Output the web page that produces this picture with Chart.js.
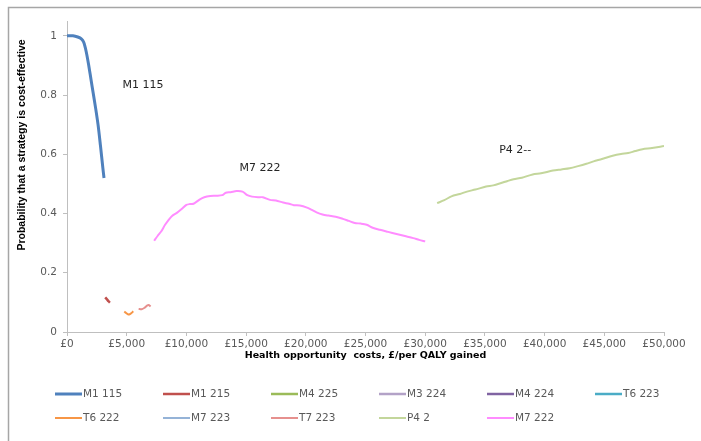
<!DOCTYPE html>
<html>
<head>
<meta charset="utf-8">
<title>Cost-effectiveness acceptability</title>
<script src="https://cdn.jsdelivr.net/npm/chart.js@4/dist/chart.umd.min.js"></script>
<style>
  html, body { margin: 0; padding: 0; background: #fff; }
  #grafico { display: block; }
</style>
</head>
<body>
<canvas id="grafico" width="701" height="441"></canvas>
<script>
// umbrales (£/QALY) y probabilidades de cada estrategia
const m1_115_x = [0, 500, 900, 1200, 1400, 1600, 1800, 2000, 2200, 2400, 2600, 2800, 3000, 3100];
const m1_115_y = [1.0, 1.0, 0.996, 0.99, 0.978, 0.948, 0.905, 0.855, 0.805, 0.755, 0.70, 0.63, 0.555, 0.52];

const m1_215_x = [3200, 3350, 3500, 3600];
const m1_215_y = [0.117, 0.110, 0.103, 0.099];

const t6_222_x = [4800, 4950, 5100, 5250, 5400, 5550];
const t6_222_y = [0.069, 0.064, 0.060, 0.060, 0.064, 0.070];

const t7_223_x = [6000, 6250, 6500, 6700, 6850, 7000];
const t7_223_y = [0.078, 0.077, 0.082, 0.089, 0.091, 0.086];

const m7_222_x = [7300, 7600, 7900, 8200, 8500, 8800, 9200, 9600, 10000, 10300, 10600, 11100, 11500,
                  12000, 12500, 13000, 13300, 13700, 14200, 14700, 15100, 15500, 16000, 16400, 17000,
                  17500, 18100, 18600, 19000, 19500, 20100, 20500, 20900, 21400, 21900, 22500, 23100,
                  23600, 24100, 24600, 25100, 25600, 26200, 26900, 27600, 28300, 29000, 29500, 30000];
const m7_222_y = [0.308, 0.325, 0.340, 0.361, 0.378, 0.392, 0.402, 0.415, 0.429, 0.432, 0.433, 0.447, 0.455,
                  0.459, 0.460, 0.462, 0.470, 0.472, 0.476, 0.474, 0.462, 0.457, 0.455, 0.455, 0.446,
                  0.444, 0.437, 0.433, 0.428, 0.427, 0.420, 0.412, 0.404, 0.397, 0.393, 0.389, 0.382,
                  0.375, 0.368, 0.366, 0.362, 0.352, 0.345, 0.338, 0.331, 0.324, 0.317, 0.311, 0.306];

const p4_2_x = [31000, 31600, 32200, 32900, 33500, 34200, 35100, 35700, 36300, 36900, 37400, 38100, 39000,
                39700, 40700, 41400, 42100, 42800, 43500, 44100, 44800, 45700, 46400, 47000, 47600,
                48200, 49000, 50000];
const p4_2_y = [0.435, 0.445, 0.458, 0.466, 0.474, 0.481, 0.491, 0.495, 0.502, 0.510, 0.516, 0.521, 0.532,
                0.536, 0.545, 0.549, 0.553, 0.560, 0.568, 0.576, 0.584, 0.595, 0.601, 0.604, 0.611,
                0.617, 0.621, 0.628];

const estrategias = ["M1 115", "M1 215", "M4 225", "M3 224", "M4 224", "T6 223",
                     "T6 222", "M7 223", "T7 223", "P4 2", "M7 222"];
const colores = ["#4F81BD", "#C0504D", "#9BBB59", "#B3A2C7", "#8064A2", "#4BACC6",
                 "#F79646", "#95B3D7", "#E6908E", "#C3D69B", "#FF8CFF"];
const grosores = [3, 2.5, 2.5, 2.5, 2.5, 2.5, 2, 2, 2, 2, 2];

const ticksX = [0, 5000, 10000, 15000, 20000, 25000, 30000, 35000, 40000, 45000, 50000];
const ticksY = [0, 0.2, 0.4, 0.6, 0.8, 1];

// etiquetas sobre las curvas (en unidades de los ejes)
const etiquetas = [
  { texto: "M1 115", x: 4650, y: 0.834 },
  { texto: "M7 222", x: 14450, y: 0.554 },
  { texto: "P4 2--", x: 36200, y: 0.615 }
];

const tituloX = "Health opportunity  costs, £/per QALY gained";
const tituloY = "Probability that a strategy is cost-effective";

const juntar = (xs, ys) => xs.map((x, i) => ({ x: x, y: ys[i] }));

const series = {
  "M1 115": juntar(m1_115_x, m1_115_y),
  "M1 215": juntar(m1_215_x, m1_215_y),
  "T6 222": juntar(t6_222_x, t6_222_y),
  "T7 223": juntar(t7_223_x, t7_223_y),
  "P4 2": juntar(p4_2_x, p4_2_y),
  "M7 222": juntar(m7_222_x, m7_222_y)
};

const datasets = estrategias.map((nombre, i) => ({
  label: nombre,
  data: series[nombre] || [],
  borderColor: colores[i],
  backgroundColor: colores[i],
  borderWidth: grosores[i],
  pointRadius: 0,
  tension: 0.3,
  fill: false
}));

const GRIS_EJE = "#BFBFBF";
const GRIS_TEXTO = "#595959";

// marco, titulos, etiquetas y leyenda
const decorado = {
  id: "decorado",
  afterDraw(chart) {
    const ctx = chart.ctx;
    const sx = chart.scales.x, sy = chart.scales.y;
    ctx.save();

    ctx.strokeStyle = "#A6A6A6";
    ctx.lineWidth = 1.5;
    ctx.beginPath();
    ctx.moveTo(8.5, 441);
    ctx.lineTo(8.5, 7.5);
    ctx.lineTo(701, 7.5);
    ctx.stroke();

    ctx.fillStyle = "#262626";
    ctx.textBaseline = "middle";
    ctx.textAlign = "left";
    ctx.font = "11px 'DejaVu Sans'";
    etiquetas.forEach((e) => {
      ctx.fillText(e.texto, sx.getPixelForValue(e.x), sy.getPixelForValue(e.y));
    });

    ctx.fillStyle = "#000";
    ctx.textAlign = "center";
    ctx.font = "bold 9.5px 'DejaVu Sans'";
    ctx.fillText(tituloX, (chart.chartArea.left + chart.chartArea.right) / 2, 356);

    ctx.save();
    ctx.translate(22, 145);
    ctx.rotate(-Math.PI / 2);
    ctx.font = "bold 10.5px 'Liberation Sans Narrow', 'Liberation Sans'";
    ctx.fillText(tituloY, 0, 0);
    ctx.restore();

    // leyenda en dos filas de seis columnas
    ctx.textAlign = "left";
    ctx.font = "10.5px 'DejaVu Sans'";
    chart.data.datasets.forEach((ds, i) => {
      const col = i % 6, fila = Math.floor(i / 6);
      const x0 = 55 + col * 108;
      const y0 = 394 + fila * 24;
      ctx.strokeStyle = ds.borderColor;
      ctx.lineWidth = ds.borderWidth;
      ctx.beginPath();
      ctx.moveTo(x0, y0);
      ctx.lineTo(x0 + 27, y0);
      ctx.stroke();
      ctx.fillStyle = GRIS_TEXTO;
      ctx.fillText(ds.label, x0 + 28, y0);
    });

    ctx.restore();
  }
};

const ctx = document.getElementById("grafico").getContext("2d");

const grafico = new Chart(ctx, {
  type: "line",
  data: { datasets: datasets },
  options: {
    responsive: false,
    animation: false,
    devicePixelRatio: 1,
    layout: { padding: { top: 21, right: 37, bottom: 69, left: 0 } },
    plugins: {
      legend: { display: false },
      tooltip: { enabled: false }
    },
    scales: {
      x: {
        type: "linear",
        min: 0,
        max: 50000,
        afterBuildTicks: (scale) => { scale.ticks = ticksX.map((v) => ({ value: v })); },
        afterFit: (scale) => { scale.height = 40; },
        border: { color: GRIS_EJE, width: 1 },
        grid: { drawOnChartArea: false, drawTicks: true, tickLength: 4, color: GRIS_EJE },
        ticks: {
          color: GRIS_TEXTO,
          font: { family: "DejaVu Sans", size: 10.5 },
          padding: 2,
          maxRotation: 0,
          callback: (v) => "£" + v.toLocaleString("en-GB")
        }
      },
      y: {
        min: 0,
        max: 1.05,
        afterBuildTicks: (scale) => { scale.ticks = ticksY.map((v) => ({ value: v })); },
        afterFit: (scale) => { scale.width = 67; },
        border: { color: GRIS_EJE, width: 1 },
        grid: { drawOnChartArea: false, drawTicks: true, tickLength: 4, color: GRIS_EJE },
        ticks: {
          color: GRIS_TEXTO,
          font: { family: "DejaVu Sans", size: 10.5 },
          padding: 6,
          callback: (v) => (v === 0 || v === 1) ? String(v) : v.toFixed(1)
        }
      }
    }
  },
  plugins: [decorado]
});
</script>
</body>
</html>
